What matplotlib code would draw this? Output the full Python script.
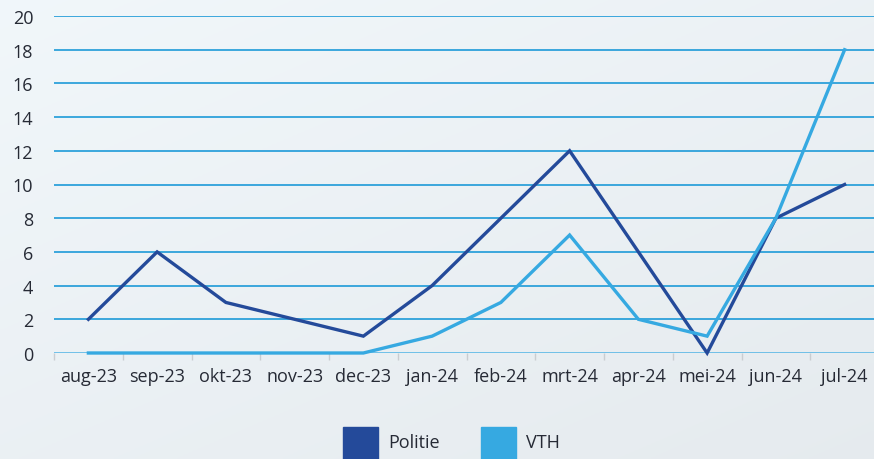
import numpy as np
import matplotlib.pyplot as plt
from matplotlib.patches import Rectangle

months = ["aug-23", "sep-23", "okt-23", "nov-23", "dec-23", "jan-24",
          "feb-24", "mrt-24", "apr-24", "mei-24", "jun-24", "jul-24"]
politie = [2, 6, 3, 2, 1, 4, 8, 12, 6, 0, 8, 10]
vth = [0, 0, 0, 0, 0, 1, 3, 7, 2, 1, 8, 18]

C_POL = "#244a9a"
C_VTH = "#36a9e1"
C_GRID = "#1d9ad8"
C_TEXT = "#262a35"

plt.rcParams["font.family"] = ["Open Sans", "DejaVu Sans"]

fig = plt.figure(figsize=(8.74, 4.6), dpi=100)

# soft gradient background
bg = fig.add_axes([0, 0, 1, 1], zorder=-10)
yy, xx = np.mgrid[0:1:200j, 0:1:200j]
t = np.clip(0.45 * xx + 0.55 * yy, 0, 1)
top = np.array([0.945, 0.968, 0.982])
bot = np.array([0.9, 0.92, 0.935])
img = top[None, None, :] * (1 - t[..., None]) + bot[None, None, :] * t[..., None]
bg.imshow(img, aspect="auto", extent=[0, 1, 0, 1], origin="upper")
bg.axis("off")

ax = fig.add_axes([54 / 874, (460 - 354) / 460, 825 / 874, 337 / 460])
ax.patch.set_alpha(0)

x = np.arange(len(months))
ax.plot(x, politie, color=C_POL, lw=2.4, solid_joinstyle="miter",
        clip_on=False, zorder=3)
ax.plot(x, vth, color=C_VTH, lw=2.4, solid_joinstyle="miter",
        clip_on=False, zorder=4)

ax.set_xlim(-0.5, len(months) - 0.5)
ax.set_ylim(0, 20)
ax.set_yticks(range(0, 21, 2))
ax.set_xticks(x)
ax.set_xticklabels(months)
ax.set_xticks(np.arange(-0.5, len(months), 1), minor=True)

for v in range(2, 21, 2):
    ax.axhline(v, color=C_GRID, lw=1.2, zorder=1)
ax.axhline(0, color="#5bb8e6", lw=1.2, zorder=1)

for s in ax.spines.values():
    s.set_visible(False)

ax.tick_params(axis="y", length=0, pad=15, labelsize=13, labelcolor=C_TEXT)
ax.tick_params(axis="x", which="major", length=0, pad=10, labelsize=13,
               labelcolor=C_TEXT)
ax.tick_params(axis="x", which="minor", length=5, width=1, color="#c9cdd1")

# legend
for x0, label, col in [(343, "Politie", C_POL), (481, "VTH", C_VTH)]:
    fig.patches.append(Rectangle((x0 / 874, (460 - 463) / 460), 35 / 874, 35 / 460,
                                 transform=fig.transFigure, color=col))
    fig.text((x0 + 45) / 874, (460 - 443) / 460, label, fontsize=13,
             color=C_TEXT, va="center", ha="left")

fig.savefig("out.png", dpi=100)
